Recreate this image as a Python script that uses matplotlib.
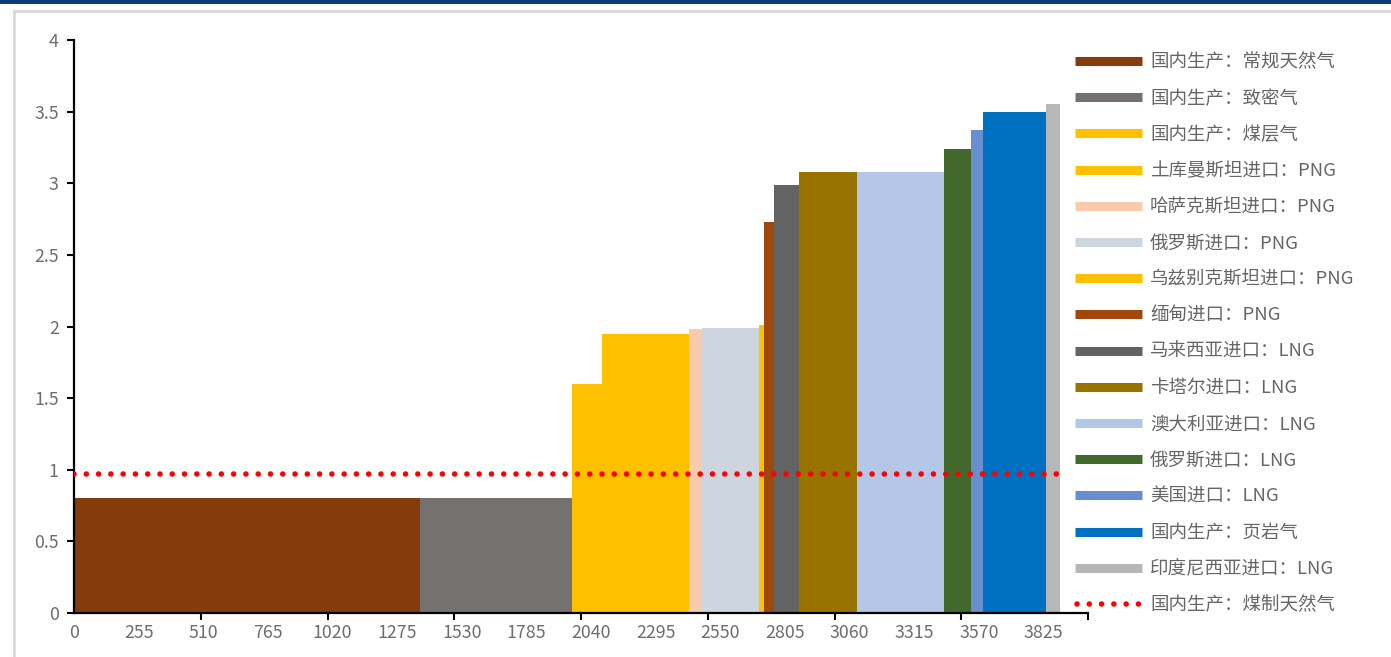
import matplotlib
matplotlib.use("Agg")
import matplotlib.pyplot as plt
from matplotlib.lines import Line2D
from matplotlib.patches import Rectangle
import numpy as np

plt.rcParams['font.family'] = ['Noto Sans CJK SC', 'DejaVu Sans']

# supply sources, in merit order
names = ["国内生产：常规天然气", "国内生产：致密气", "国内生产：煤层气",
         "土库曼斯坦进口：PNG", "哈萨克斯坦进口：PNG", "俄罗斯进口：PNG",
         "乌兹别克斯坦进口：PNG", "缅甸进口：PNG", "马来西亚进口：LNG",
         "卡塔尔进口：LNG", "澳大利亚进口：LNG", "俄罗斯进口：LNG",
         "美国进口：LNG", "国内生产：页岩气", "印度尼西亚进口：LNG"]
volumes = [1365, 600, 119, 343, 49, 226, 20, 40, 99, 229, 340, 109, 46, 248, 57]
costs = [0.80, 0.80, 1.60, 1.95, 1.98, 1.99, 2.01, 2.73, 2.99, 3.08, 3.08, 3.24, 3.37, 3.50, 3.55]
colors = ["#843C0C", "#767171", "#FFC000", "#FFC000", "#F8CBAD", "#CDD5DF",
          "#FFC000", "#9E480E", "#636363", "#997300", "#B4C7E7", "#43682B",
          "#698ED0", "#0070C0", "#B7B7B7"]
coal_gas_name = "国内生产：煤制天然气"
coal_gas_cost = 0.97

W, H = 1391, 657
fig = plt.figure(figsize=(W / 100, H / 100), dpi=100)

# frame decoration
fig.add_artist(Rectangle((0, 1 - 4 / H), 1, 4 / H, transform=fig.transFigure,
                         color="#0C3C7C", lw=0))
fig.add_artist(Line2D([14 / W, 1], [1 - 11 / H, 1 - 11 / H], transform=fig.transFigure,
                      color="#D9D9D9", lw=2))
fig.add_artist(Line2D([14 / W, 14 / W], [0, 1 - 11 / H], transform=fig.transFigure,
                      color="#D9D9D9", lw=2))

ax = fig.add_axes([74 / W, 44 / H, 1014 / W, 573 / H])

lefts = np.concatenate([[0], np.cumsum(volumes)[:-1]])
ax.bar(lefts, costs, width=volumes, align="edge", color=colors, linewidth=0, zorder=2)

dot_style = dict(color="#FF0000", lw=4.0, linestyle=(0, (0.01, 2.2)), dash_capstyle="round")
total = sum(volumes)
ax.plot([0, total], [coal_gas_cost, coal_gas_cost], zorder=3, **dot_style)

ax.set_xlim(0, 4000)
ax.set_ylim(0, 4)
for s in ["top", "right"]:
    ax.spines[s].set_visible(False)
for s in ["left", "bottom"]:
    ax.spines[s].set_linewidth(1.6)
    ax.spines[s].set_color("black")

ax.set_yticks(np.arange(0, 4.01, 0.5))
ax.set_yticklabels(["0", "0.5", "1", "1.5", "2", "2.5", "3", "3.5", "4"])
ax.set_xticks(range(0, 3826, 255))
ax.set_xticks(range(0, 4001, 500), minor=True)
ax.tick_params(axis="x", which="major", length=0, pad=8, labelsize=12.8, labelcolor="#6E6E6E")
ax.tick_params(axis="x", which="minor", length=5, width=1.5, direction="out")
ax.tick_params(axis="y", length=5, width=1.5, pad=6, labelsize=12.8, labelcolor="#6E6E6E")

# legend drawn by hand
y0, dy = 61, 36.2
for i, (n, c) in enumerate(zip(names, colors)):
    y = 1 - (y0 + dy * i) / H
    fig.add_artist(Line2D([1075 / W, 1142 / W], [y, y], transform=fig.transFigure,
                          color=c, lw=6.5, solid_capstyle="butt"))
    fig.text(1150 / W, y - 1.5 / H, n, fontsize=13.3, color="#666666", va="center", ha="left")
y = 1 - (y0 + dy * len(names)) / H
fig.add_artist(Line2D([1077 / W, 1139 / W], [y, y], transform=fig.transFigure, **dot_style))
fig.text(1150 / W, y - 1.5 / H, coal_gas_name, fontsize=13.3, color="#666666", va="center", ha="left")

fig.savefig("out.png", dpi=100)
